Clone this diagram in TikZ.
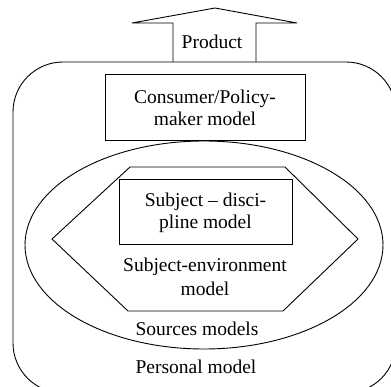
\documentclass[tikz,border=0pt]{standalone}
\usepackage{fontspec}
\setmainfont{Liberation Serif}
\usetikzlibrary{shapes.geometric}

\begin{document}
\begin{tikzpicture}[x=1pt,y=-1pt,line width=0.9pt,
  every node/.style={font=\fontsize{19.5}{22}\selectfont,align=center,inner sep=0pt},
  modelbox/.style={draw,line width=1pt}]
\useasboundingbox (0,0) rectangle (391,387);

\draw [rounded corners=50pt] (13,62) rectangle (396,393);
\draw (173,62) -- (173,23) -- (132,23) -- (215,8) -- (297,23) -- (256,23) -- (256,62);
\node (product) at (212,42) {Product};

\node [modelbox,minimum width=200pt,minimum height=66pt] (consumer) at (205,108) {Consumer/Policy-\\maker model};
\node [draw,ellipse,minimum width=358pt,minimum height=208pt] (sources) at (204,245) {};
\draw (130,167) -- (285,167) -- (358,239) -- (283,311) -- (128,311) -- (52,239) -- cycle;
\node [modelbox,minimum width=173pt,minimum height=65pt] (discipline) at (205.5,212.5) {Subject – disci-\\pline model};

\node (environment) at (205,277) {Subject-environment\\[2pt]model};
\node (sourcelabel) at (197,329) {Sources models};
\node (personal) at (196,367) {Personal model};
\end{tikzpicture}
\end{document}
